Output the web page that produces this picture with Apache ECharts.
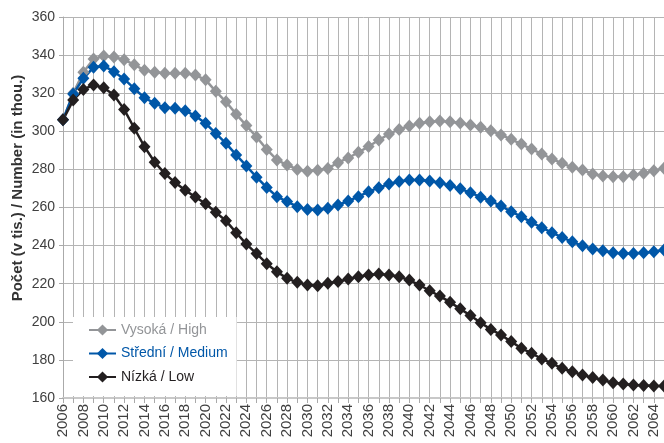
<!DOCTYPE html>
<html>
<head>
<meta charset="utf-8">
<script src="https://cdn.jsdelivr.net/npm/echarts@6/dist/echarts.min.js"></script>
<style>
  html, body { margin: 0; padding: 0; background: #fff; }
  #chart { width: 664px; height: 443px; }
</style>
</head>
<body>
<div id="chart"></div>
<script>
// years 2006 - 2065
const years = []
for (let y = 2006; y <= 2065; y++) years.push(String(y))

// Vysoká / High
const high = [
  306, 320, 331, 338, 339.5, 339, 337.5, 335, 332, 331,
  330.5, 330.5, 330.5, 329.5, 327, 321, 315.5, 309, 303, 297,
  290.5, 285, 282.3, 280, 279, 279.5, 280.5, 283.5, 286, 289,
  292, 295.4, 298.6, 301, 302.8, 304.2, 305, 305.4, 305, 304.3,
  303.3, 302.1, 300.3, 298.1, 295.8, 293.3, 290.7, 288.1, 285.5, 283.2,
  281.1, 279.7, 277.6, 276.5, 276.2, 276.2, 277.1, 278, 279.3, 280.6
]
// Střední / Medium
const medium = [
  306, 319.6, 327.8, 333.6, 334.3, 331.3, 327.5, 322.4, 317.6, 314.7,
  312.4, 312.1, 310.8, 308, 304.2, 298.9, 293.7, 287.6, 281.8, 275.9,
  270.5, 265.7, 263.1, 260.4, 259, 258.7, 259.6, 261.3, 263.4, 265.7,
  268.3, 270.4, 272.3, 273.6, 274.4, 274.4, 273.9, 273, 271.5, 269.8,
  267.8, 265.4, 263.4, 260.8, 257.8, 255.2, 252.2, 249.4, 246.8, 244.3,
  242, 239.9, 238.2, 237.3, 236.3, 235.9, 235.9, 236.3, 236.8, 237.7
]
// Nízká / Low
const low = [
  306, 316.4, 322, 324.3, 322.9, 319.1, 311.5, 301.6, 291.9, 283.8,
  277.8, 273.1, 269, 265.5, 262, 257.5, 253, 246.8, 240.8, 235.8,
  230.5, 226.3, 222.8, 220.7, 219.3, 218.9, 220.2, 221.1, 222.5, 223.7,
  224.6, 225.1, 224.6, 223.7, 221.9, 219.3, 216.3, 213.5, 210.3, 206.8,
  203.3, 199.5, 196, 193.1, 189.6, 186.1, 183.5, 180.5, 178.2, 175.6,
  173.8, 172.1, 170.7, 169.4, 168, 167.3, 166.8, 166.5, 166.3, 166.3
]

const names = ['Vysoká / High', 'Střední / Medium', 'Nízká / Low']
const colors = ['#939598', '#0057a8', '#231f20']
const font = 'Liberation Sans, Arial, sans-serif'

let chart = echarts.init(document.getElementById('chart'))
chart.setOption({
  animation: false,
  textStyle: { fontFamily: font },
  grid: { left: 63, right: 0, top: 17, bottom: 45, containLabel: false },
  graphic: [{
    type: 'text',
    x: 18,
    y: 188,
    rotation: Math.PI / 2,
    style: {
      text: 'Počet (v tis.) / Number (in thou.)',
      font: 'bold 15px ' + font,
      fill: '#333',
      align: 'center',
      verticalAlign: 'middle'
    }
  }],
  legend: {
    orient: 'vertical',
    left: 73,
    top: 317,
    padding: [6, 9, 12, 15],
    backgroundColor: '#fff',
    itemWidth: 27,
    itemHeight: 14,
    itemGap: 9.5,
    data: names.map((n, i) => ({ name: n, textStyle: { color: colors[i] } })),
    textStyle: { fontSize: 14, fontFamily: font }
  },
  xAxis: {
    type: 'category',
    boundaryGap: false,
    data: years,
    axisLine: { lineStyle: { color: '#c8c8c8', width: 2 } },
    axisTick: { show: true, interval: 0, length: 5, lineStyle: { color: '#aaa' } },
    axisLabel: { interval: 1, rotate: 90, margin: 6, fontSize: 15, color: '#404040' },
    splitLine: { show: true, interval: 0, lineStyle: { color: '#b4b4b4', width: 1 } }
  },
  yAxis: {
    type: 'value',
    min: 160,
    max: 360,
    interval: 20,
    axisLine: { show: true, lineStyle: { color: '#aaa' } },
    axisTick: { show: true, length: 4, lineStyle: { color: '#aaa' } },
    axisLabel: { fontSize: 14, color: '#404040', margin: 8 },
    splitLine: { lineStyle: { color: '#b4b4b4', width: 1 } }
  },
  series: [high, medium, low].map((d, i) => ({
    name: names[i],
    type: 'line',
    data: d,
    symbol: 'diamond',
    symbolSize: [12, 13],
    showAllSymbol: true,
    clip: false,
    itemStyle: { color: colors[i] },
    lineStyle: { color: colors[i], width: 2.5 }
  }))
})
</script>
</body>
</html>
